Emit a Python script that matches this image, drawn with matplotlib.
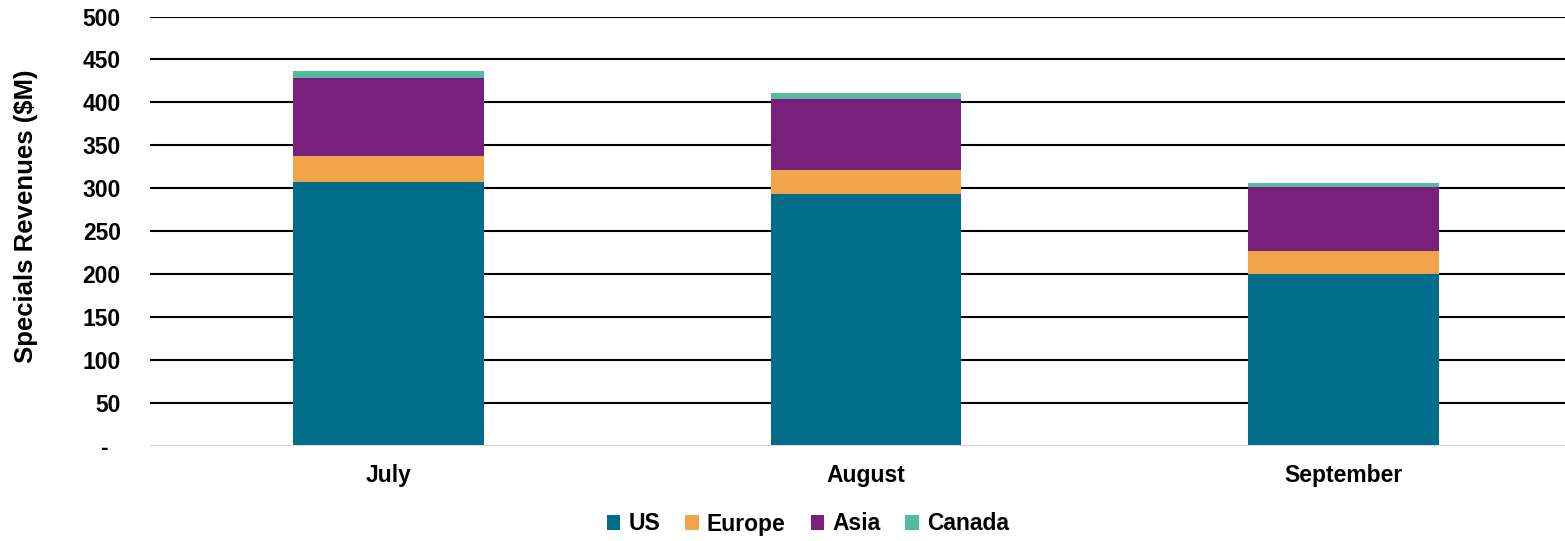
import matplotlib
matplotlib.use("Agg")
import matplotlib.pyplot as plt
from matplotlib.patches import Patch
import numpy as np

months = ["July", "August", "September"]
us = [307, 294, 201]
europe = [31, 27, 26]
asia = [91, 83, 75]
canada = [8, 6.5, 4.5]
series_names = ["US", "Europe", "Asia", "Canada"]
colors = ["#006E8A", "#F0A54A", "#78207C", "#55BA9E"]
y_ticks = [0, 50, 100, 150, 200, 250, 300, 350, 400, 450, 500]
y_tick_labels = ["-  ", "50", "100", "150", "200", "250", "300", "350", "400", "450", "500"]

plt.rcParams["font.family"] = ["Liberation Sans", "DejaVu Sans"]
plt.rcParams["font.weight"] = "bold"

W, H = 1565, 541
fig = plt.figure(figsize=(W / 100, H / 100), dpi=100)
left_px, right_px = 150, 1582
ax = fig.add_axes([left_px / W, (H - 446.3) / H, (right_px - left_px) / W, (446.3 - 16.5) / H])

x = np.arange(len(months))
bottom = np.zeros(len(months))
for name, vals, c in zip(series_names, [us, europe, asia, canada], colors):
    ax.bar(x, vals, width=0.4, bottom=bottom, color=c, zorder=3, label=name)
    bottom += np.array(vals)

ax.set_xlim(-0.5, 2.5)
ax.set_ylim(0, 500)
ax.set_yticks(y_ticks)
ax.set_yticklabels(y_tick_labels, fontsize=16.5, fontweight="bold")
ax.set_xticks(x)
ax.set_xticklabels(months, fontsize=16.5, fontweight="bold")
ax.tick_params(axis="y", length=0, pad=21)
ax.tick_params(axis="x", length=0, pad=12.5)

for v in y_ticks[1:]:
    ax.axhline(v, color="black", linewidth=1.5, zorder=1)
ax.axhline(0, color="#D9D9D9", linewidth=1.5, zorder=4)

for s in ax.spines.values():
    s.set_visible(False)

fig.text(26 / W, (H - 216) / H, "Specials Revenues ($M)", rotation=90,
         ha="center", va="center", fontsize=18.5, fontweight="bold")

handles = [Patch(facecolor=c, label=n) for n, c in zip(series_names, colors)]
fig.legend(handles=handles, loc="center", bbox_to_anchor=(808 / W, (H - 524) / H),
           ncol=4, frameon=False, handlelength=0.58, handleheight=0.58,
           handletextpad=0.35, columnspacing=1.1,
           prop={"weight": "bold", "size": 16.5})

fig.savefig("out.png", dpi=100)
